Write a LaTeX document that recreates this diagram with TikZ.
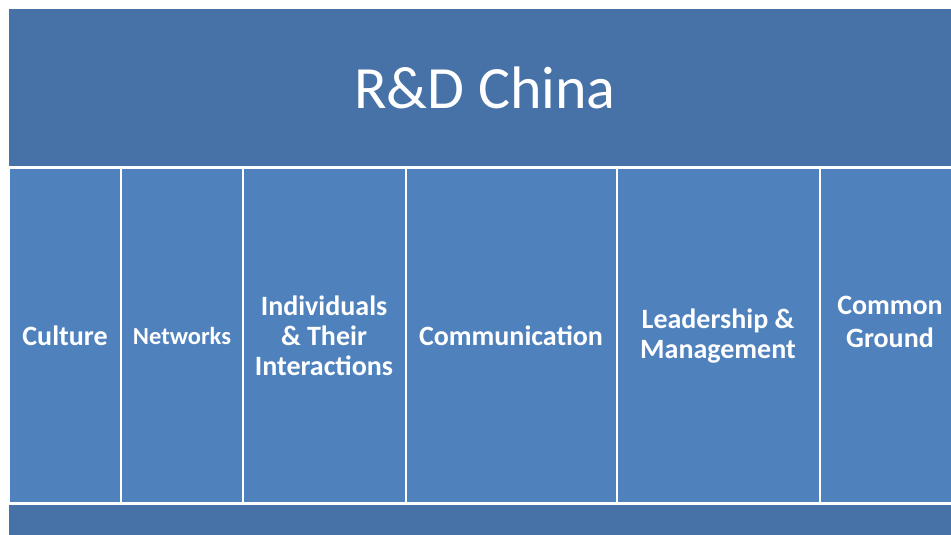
\documentclass[tikz,border=0pt]{standalone}
\usepackage{fontspec}
\setmainfont{Carlito}
\definecolor{bandblue}{HTML}{4672A8}
\definecolor{colblue}{HTML}{4F81BD}
\tikzset{
  band/.style={fill=bandblue, draw=white, line width=1.5pt},
  col/.style={fill=colblue, draw=white, line width=1.8pt},
  coltext/.style={text=white, font=\bfseries\fontsize{28}{30}\selectfont, align=center, inner sep=0pt},
}
\begin{document}
\begin{tikzpicture}[x=1pt,y=-1pt]
\useasboundingbox (0,0) rectangle (951,535);
\fill[white] (0,0) rectangle (951,535);
\begin{scope}
\clip (0,0) rectangle (951,535);
\draw[band] (8.5,8) rectangle (970,167);
\draw[col] (9,168.5) rectangle (121,503);
\draw[col] (121,168.5) rectangle (243,503);
\draw[col] (243,168.5) rectangle (406,503);
\draw[col] (406,168.5) rectangle (617,503);
\draw[col] (617,168.5) rectangle (820,503);
\draw[col] (820,168.5) rectangle (1023,503);
\draw[band] (8.5,504) rectangle (970,560);
\end{scope}
\node[text=white, font=\fontsize{60}{64}\selectfont, inner sep=0pt] (title) at (485,88) {R\&D China};
\node[coltext] (culture) at (65,336) {Culture};
\node[coltext, font=\bfseries\fontsize{24.5}{28}\selectfont] (networks) at (182,336) {Networks};
\node[coltext] (indiv) at (324,336) {Individuals\\\& Their\\Interactions};
\node[coltext] (comm) at (511,336) {Communication};
\node[coltext] (lead) at (718,336) {Leadership \&\\Management};
\node[coltext, font=\bfseries\fontsize{28}{33}\selectfont] (common) at (890,322) {Common\\Ground};
\end{tikzpicture}
\end{document}
